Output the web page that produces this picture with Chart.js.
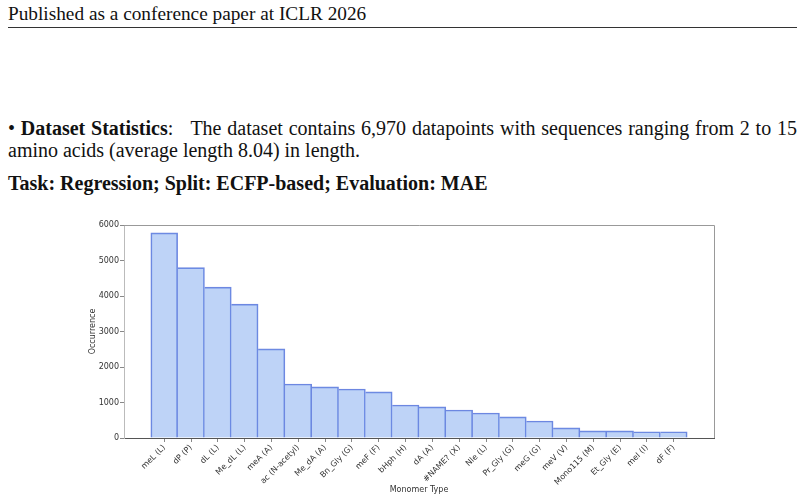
<!DOCTYPE html>
<html lang="en">
  <head>
    <meta charset="UTF-8" />
    <title>Monomer Occurrence</title>
    <script src="https://cdn.jsdelivr.net/npm/chart.js"></script>
    <style>
      html, body {
        margin: 0;
        padding: 0;
        background: #fff;
      }
      body {
        position: relative;
        width: 804px;
        height: 502px;
        overflow: hidden;
        font-family: "Liberation Serif", "Times New Roman", serif;
        color: #111;
      }
      .line {
        position: absolute;
        left: 8px;
        white-space: nowrap;
        font-size: 20px;
        line-height: 22px;
      }
      .rule {
        position: absolute;
        left: 8px;
        width: 789px;
        top: 27px;
        border-top: 1px solid #333;
      }
      .justify {
        width: 789px;
        text-align: justify;
        text-align-last: justify;
      }
      #chartBox {
        position: absolute;
        left: 0;
        top: 200px;
        width: 804px;
        height: 302px;
      }
    </style>
  </head>
  <body>
    <div class="line" style="top: 3px; font-size: 19.3px">Published as a conference paper at ICLR 2026</div>
    <div class="rule"></div>
    <div class="line justify" style="top: 117px">
      • <b>Dataset Statistics</b>:&nbsp;&nbsp; The dataset contains 6,970 datapoints with sequences ranging from 2 to 15
    </div>
    <div class="line" style="top: 139px">amino acids (average length 8.04) in length.</div>
    <div class="line" style="top: 172px"><b>Task: Regression; Split: ECFP-based; Evaluation: MAE</b></div>

    <div id="chartBox"><canvas id="monomerChart" width="804" height="302"></canvas></div>

    <script>
      const monomers = [
        "meL (L)", "dP (P)", "dL (L)", "Me_dL (L)", "meA (A)",
        "ac (N-acetyl)", "Me_dA (A)", "Bn_Gly (G)", "meF (F)", "bHph (H)",
        "dA (A)", "#NAME? (X)", "Nle (L)", "Pr_Gly (G)", "meG (G)",
        "meV (V)", "Mono115 (M)", "Et_Gly (E)", "meI (I)", "dF (F)",
      ];
      const counts = [
        5780, 4800, 4250, 3770, 2510,
        1520, 1440, 1380, 1300, 930,
        875, 790, 705, 595, 480,
        285, 200, 200, 175, 175,
      ];
      const yTicks = [0, 1000, 2000, 3000, 4000, 5000, 6000];

      // box around the plot area (top and right sides)
      const frame = {
        id: "frame",
        afterDraw(chart) {
          const { ctx, chartArea: a } = chart;
          ctx.save();
          ctx.strokeStyle = "#999";
          ctx.lineWidth = 1;
          ctx.beginPath();
          ctx.moveTo(a.left, a.top + 0.5);
          ctx.lineTo(a.right + 0.5, a.top + 0.5);
          ctx.lineTo(a.right + 0.5, a.bottom);
          ctx.stroke();
          ctx.restore();
        },
      };

      const tickFont = { family: "DejaVu Sans", size: 8 };

      new Chart(document.getElementById("monomerChart"), {
        type: "bar",
        data: {
          datasets: [
            {
              label: "Occurrence",
              data: counts.map((c, i) => ({ x: i, y: c })),
              backgroundColor: "rgba(100, 149, 237, 0.42)",
              borderColor: "#6f87e0",
              borderWidth: (ctx) => ({
                top: 1,
                right: 1,
                bottom: 0,
                left: ctx.dataIndex === 0 ? 1 : 0,
              }),
              categoryPercentage: 1,
              barPercentage: 1,
            },
          ],
        },
        options: {
          responsive: false,
          animation: false,
          devicePixelRatio: 1,
          layout: { padding: { top: 25, right: 90, left: 76, bottom: 0 } },
          plugins: {
            legend: { display: false },
            tooltip: { enabled: false },
          },
          scales: {
            x: {
              type: "linear",
              offset: false,
              min: -1.5,
              max: monomers.length + 0.5,
              afterBuildTicks: (axis) => {
                axis.ticks = monomers.map((_, i) => ({ value: i }));
              },
              afterFit: (axis) => {
                axis.height = 64;
              },
              grid: {
                offset: false,
                drawOnChartArea: false,
                tickLength: 4,
                tickColor: "#888",
              },
              border: { color: "#555" },
              ticks: {
                autoSkip: false,
                minRotation: 45,
                maxRotation: 45,
                padding: 1,
                color: "#333",
                font: tickFont,
                callback: (v) => monomers[v],
              },
              title: {
                display: true,
                text: "Monomer Type",
                color: "#333",
                font: { family: "DejaVu Sans", size: 8 },
                padding: { top: 0, bottom: 7 },
              },
            },
            y: {
              min: 0,
              max: 6000,
              afterBuildTicks: (axis) => {
                axis.ticks = yTicks.map((v) => ({ value: v }));
              },
              afterFit: (axis) => {
                axis.width = 48;
              },
              grid: {
                drawOnChartArea: false,
                tickLength: 4,
                tickColor: "#888",
              },
              border: { color: "#bbb" },
              ticks: {
                padding: 1,
                color: "#333",
                font: tickFont,
                callback: (v) => String(v),
              },
              title: {
                display: true,
                text: "Occurrence",
                color: "#333",
                font: { family: "DejaVu Sans", size: 8 },
                padding: { top: 12, bottom: 0 },
              },
            },
          },
        },
        plugins: [frame],
      });
    </script>
  </body>
</html>
